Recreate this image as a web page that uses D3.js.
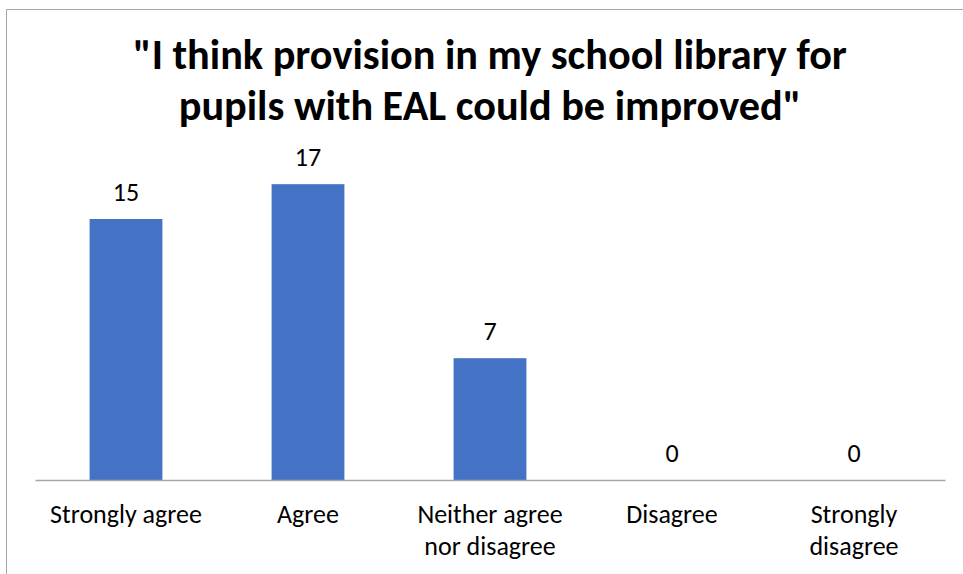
<!DOCTYPE html>
<html>
<head>
<meta charset="utf-8">
<script src="https://cdn.jsdelivr.net/npm/d3@7"></script>
<style>
  body { margin: 0; background: #fff; }
  svg text { font-family: Calibri, Carlito, Lato, sans-serif; fill: #000; }
</style>
</head>
<body>
<div id="chart"></div>
<script>
// Data
const categories = ["Strongly agree", "Agree", "Neither agree nor disagree", "Disagree", "Strongly disagree"];
const labelLines = [["Strongly agree"], ["Agree"], ["Neither agree", "nor disagree"], ["Disagree"], ["Strongly", "disagree"]];
const counts = [15, 17, 7, 0, 0];
const titleLines = ["\"I think provision in my school library for", "pupils with EAL could be improved\""];

const W = 963, H = 574;
const plot = { left: 35, right: 945, bottom: 480, top: 132 };

const svg = d3.select("#chart")
    .append("svg")
    .attr("width", W)
    .attr("height", H);

// Chart frame (cropped at right and bottom)
svg.append("path")
    .attr("d", `M6.5,${H} V9.5 H${W}`)
    .attr("fill", "none")
    .attr("stroke", "#a6a6a6")
    .attr("stroke-width", 1);

// Scales
const x = d3.scaleBand()
    .domain(categories)
    .range([plot.left, plot.right])
    .paddingInner(0.6)
    .paddingOuter(0.3);

const y = d3.scaleLinear()
    .domain([0, 20])
    .range([plot.bottom, plot.top]);

// Title
const title = svg.append("text")
    .attr("text-anchor", "middle")
    .style("font-weight", "bold")
    .style("font-size", "38px");
title.selectAll("tspan")
    .data(titleLines)
    .join("tspan")
    .attr("x", (plot.left + plot.right) / 2)
    .attr("y", (d, i) => 69 + i * 51)
    .text(d => d);
// fit first line to the reference width
const w0 = title.select("tspan").node().getComputedTextLength();
title.style("font-size", (38 * 714 / w0) + "px");

// Bars
svg.append("g")
    .selectAll("rect")
    .data(counts)
    .join("rect")
    .attr("x", (d, i) => x(categories[i]))
    .attr("y", d => y(d))
    .attr("width", x.bandwidth())
    .attr("height", d => y(0) - y(d))
    .attr("fill", "#4472c4");

// Value labels
svg.append("g")
    .selectAll("text")
    .data(counts)
    .join("text")
    .attr("x", (d, i) => x(categories[i]) + x.bandwidth() / 2)
    .attr("y", d => y(d) - 18)
    .attr("text-anchor", "middle")
    .style("font-size", "26px")
    .text(d => d);

// X axis
const xAxis = svg.append("g")
    .attr("transform", `translate(0,${plot.bottom})`)
    .call(d3.axisBottom(x).tickSize(0).tickFormat(""));
xAxis.select(".domain")
    .attr("stroke", "#a6a6a6")
    .attr("stroke-width", 1.5);

// Category labels
svg.append("g")
    .selectAll("text")
    .data(categories)
    .join("text")
    .attr("text-anchor", "middle")
    .style("font-size", "26px")
    .each(function(d, i) {
        d3.select(this).selectAll("tspan")
            .data(labelLines[i])
            .join("tspan")
            .attr("x", x(d) + x.bandwidth() / 2)
            .attr("y", (t, j) => 523 + j * 32)
            .text(t => t);
    });
</script>
</body>
</html>
